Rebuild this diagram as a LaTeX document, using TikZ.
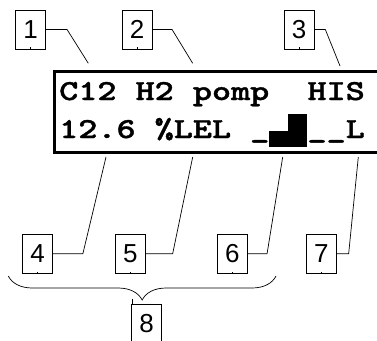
\documentclass[tikz,border=0pt]{standalone}
\usepackage{fontspec}
\setmainfont{Liberation Sans}
\newfontfamily\lcdfam{lmmonolt10-bold.otf}[FakeBold=1.2]
\usepackage{graphicx}
\usetikzlibrary{decorations.pathreplacing}

\newlength{\lcdw}
\newcommand{\lcdfont}{\lcdfam\fontsize{29}{29}\selectfont}
\AtBeginDocument{\settowidth{\lcdw}{\lcdfont 0}}

\tikzset{
  numbox/.style={draw, line width=0.7pt, minimum width=30pt, minimum height=39pt,
    inner sep=0pt, font=\fontsize{26}{26}\selectfont},
  lead/.style={line width=0.7pt},
  lcd/.style={anchor=base west, inner sep=0pt},
}

\begin{document}
\begin{tikzpicture}[x=1pt, y=-1pt]
\useasboundingbox (0,0) rectangle (377,340);
\clip (0,0) rectangle (377,340);

% Parameters of the display
\def\xo{59}    % left edge of first cell
\def\cw{19.1}  % cell width
\pgfmathsetmacro{\lcdscale}{\cw/\lcdw}

% Display frame (right side runs off the picture)
\draw[line width=3pt] (54,71) rectangle (400,152);

% Display rows
\node[lcd] (row1) at (\xo,100) {\scalebox{\lcdscale}[1]{\lcdfont C12 H2 pomp~~HIS}};
\node[lcd] (row2) at (\xo,138) {\scalebox{\lcdscale}[1]{\lcdfont 12.6 \%LEL \_\_\_\_\_L}};

% Bar graph
\fill ({\xo+11*\cw},130.7) rectangle ({\xo+12*\cw},147);
\fill ({\xo+12*\cw},114.3) rectangle ({\xo+13*\cw},147);

% Numbered boxes
\node[numbox] (n1) at (30.7,29.5) {1};
\node[numbox] (n2) at (137,29.5) {2};
\node[numbox] (n3) at (299,29.5) {3};
\node[numbox] (n4) at (37.5,253.8) {4};
\node[numbox] (n5) at (130.3,253.8) {5};
\node[numbox] (n6) at (232.3,253.8) {6};
\node[numbox] (n7) at (321.3,253.8) {7};
\node[numbox] (n8) at (146.7,323.5) {8};

% Leader ends on the display
\coordinate (e1) at (88.3,63.3);
\coordinate (e2) at (192.7,63.3);
\coordinate (e3) at (340,66);
\coordinate (e4) at (106,157);
\coordinate (e5) at (192.7,157);
\coordinate (e6) at (282.7,157);
\coordinate (e7) at (358.3,157);

% Leaders
\foreach \n/\dx in {1/21,2/19.7,3/11,4/30,5/27,6/19.4,7/12}
  \draw[lead] (n\n.east) -- ++(\dx,0) -- (e\n);

% small ticks
\foreach \n in {1,...,7}
  \draw[lead] (n\n.south) -- ++(0,-2);
\draw[lead] ([xshift=0.5pt]n8.north west) -- ++(0,-5);

% Brace over 4, 5, 6
\coordinate (bl) at (8.3,276);
\coordinate (br) at (276,276);
\draw[lead, decorate, decoration={brace, amplitude=24pt, mirror}] (bl) -- (br);

\end{tikzpicture}
\end{document}
